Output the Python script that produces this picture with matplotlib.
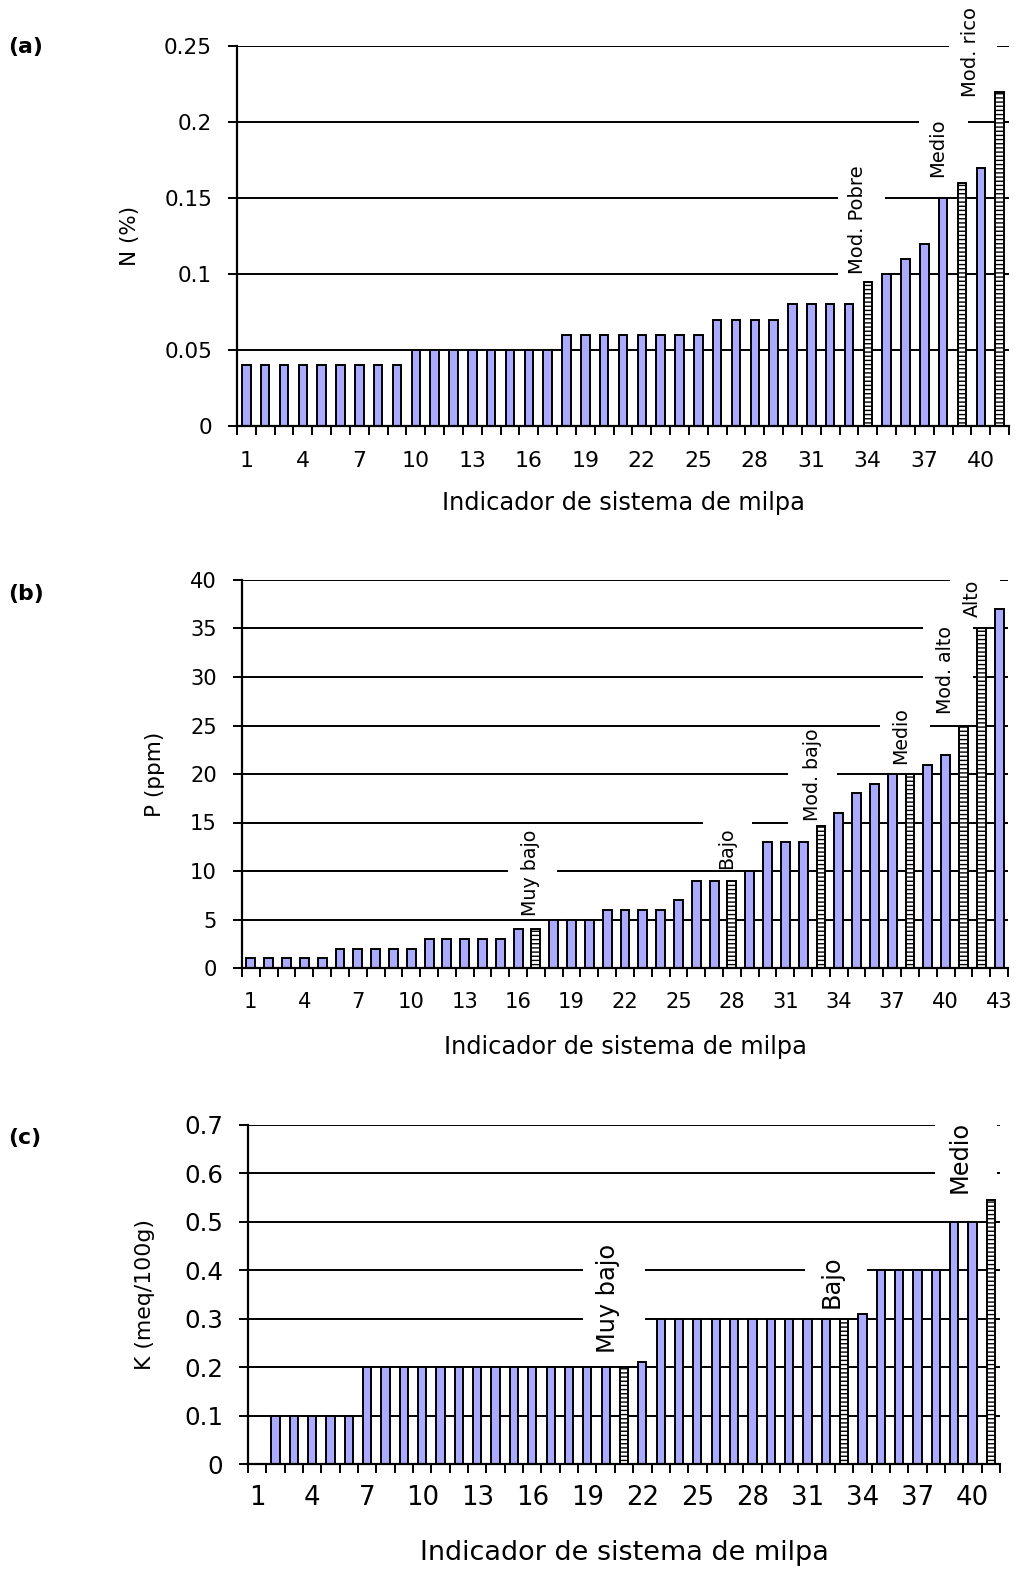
"""Soil nutrient levels (N, P, K) per milpa system, three stacked bar panels."""
import matplotlib

matplotlib.use("Agg")
import matplotlib.pyplot as plt
import numpy as np
from matplotlib.patches import Rectangle

# ---- data ------------------------------------------------------------------
N_VALUES = [0.04] * 9 + [0.05] * 8 + [0.06] * 8 + [0.07] * 4 + [0.08] * 4 + [
    0.095, 0.10, 0.11, 0.12, 0.15, 0.16, 0.17, 0.22]
N_HATCHED = [34, 39, 41]
N_YTICKS = [0, 0.05, 0.10, 0.15, 0.20, 0.25]
N_YLABELS = ["0", "0.05", "0.1", "0.15", "0.2", "0.25"]

P_VALUES = [1] * 5 + [2] * 5 + [3] * 5 + [4] * 2 + [5] * 3 + [6] * 4 + [7] + [9] * 3 + [
    10, 13, 13, 13, 14.6, 16, 18, 19, 20, 20, 20.9, 22, 25, 35, 37]
P_HATCHED = [17, 28, 33, 38, 41, 42]
P_YTICKS = [0, 5, 10, 15, 20, 25, 30, 35, 40]
P_YLABELS = ["0", "5", "10", "15", "20", "25", "30", "35", "40"]

K_VALUES = [0] + [0.1] * 5 + [0.2] * 14 + [0.2, 0.21] + [0.3] * 10 + [
    0.3, 0.31, 0.4, 0.4, 0.4, 0.4, 0.5, 0.5, 0.545]
K_HATCHED = [21, 33, 41]
K_YTICKS = [0, 0.1, 0.2, 0.3, 0.4, 0.5, 0.6, 0.7]
K_YLABELS = ["0", "0.1", "0.2", "0.3", "0.4", "0.5", "0.6", "0.7"]

XLABEL = "Indicador de sistema de milpa"

BLUE = "#aaaaff"
W, H = 1016, 1570


def pt(px):
    """pixel size -> points at dpi 100"""
    return px * 0.72


def axes_rect(left, right, bottom, top):
    return [left / W, 1 - bottom / H, (right - left) / W, (bottom - top) / H]


def draw_panel(rect, values, hatched, yticks, ylabels, ylabel, letter, letter_y,
               boxes, bar_width, fs_ytick, fs_xtick, fs_ylabel, fs_xlabel, fs_note,
               ylabel_x, xlabel_y, xpad):
    ax = fig.add_axes(rect)
    n = len(values)
    x = np.arange(1, n + 1)
    colors = ["white" if k in hatched else BLUE for k in x]
    hatches = ["----" if k in hatched else "" for k in x]
    bars = ax.bar(x, values, width=bar_width, color=colors, edgecolor="black",
                  linewidth=1.4, zorder=2)
    for bar, h in zip(bars, hatches):
        bar.set_hatch(h)

    ax.set_xlim(0.5, n + 0.5)
    ax.set_ylim(yticks[0], yticks[-1])
    ax.set_yticks(yticks, ylabels)
    ax.set_xticks(np.arange(1, n + 1, 3), [str(k) for k in range(1, n + 1, 3)])
    ax.set_xticks(np.arange(0.5, n + 1), minor=True)
    ax.tick_params(axis="x", which="major", length=0, labelsize=pt(fs_xtick), pad=xpad)
    ax.tick_params(axis="x", which="minor", length=6.5, width=1.4, direction="out")
    ax.tick_params(axis="y", length=6.5, width=1.4, direction="out",
                   labelsize=pt(fs_ytick), pad=11.5)

    ax.set_axisbelow(True)
    ax.yaxis.grid(True, color="black", linewidth=1.4)
    for side in ("top", "right"):
        ax.spines[side].set_visible(False)
    for side in ("left", "bottom"):
        ax.spines[side].set_linewidth(1.6)

    # white boxes behind the class names break the grid lines
    for x0, x1, y0, y1, text, tx, ty in boxes:
        ax.add_patch(Rectangle((x0, y0), x1 - x0, y1 - y0, facecolor="white",
                               edgecolor="none", zorder=1.5, clip_on=False))
        ax.text(tx, ty, text, rotation=90, ha="center", va="center",
                fontsize=pt(fs_note), zorder=4)

    ax.set_ylabel(ylabel, fontsize=pt(fs_ylabel), va="center")
    ax.yaxis.set_label_coords(ylabel_x, 0.5)
    ax.set_xlabel(XLABEL, fontsize=pt(fs_xlabel), va="center")
    ax.xaxis.set_label_coords(0.5, xlabel_y)
    fig.text(8 / W, 1 - letter_y / H, letter, fontsize=pt(22), fontweight="bold",
             ha="left", va="center")
    return ax


fig = plt.figure(figsize=(W / 100, H / 100), dpi=100)

draw_panel(
    axes_rect(237, 1009, 426, 46), N_VALUES, N_HATCHED, N_YTICKS, N_YLABELS,
    "N (%)", "(a)", 47,
    [(32.4, 34.9, 0.09, 0.18, "Mod. Pobre", 33.43, 0.136),
     (36.7, 39.3, 0.16, 0.21, "Medio", 37.73, 0.183),
     (38.3, 40.85, 0.215, 0.28, "Mod. rico", 39.43, 0.246)],
    0.45, 21.5, 22, 21.5, 24, 19.5, -0.1386, -0.2026, 18,
)

draw_panel(
    axes_rect(242, 1008, 968, 580), P_VALUES, P_HATCHED, P_YTICKS, P_YLABELS,
    "P (ppm)", "(b)", 594,
    [(15.45, 18.2, 5.2, 14.4, "Muy bajo", 16.67, 9.85),
     (26.4, 29.15, 10.2, 15.6, "Bajo", 27.73, 12.4),
     (31.15, 33.9, 14.8, 24.7, "Mod. bajo", 32.5, 19.9),
     (36.3, 39.1, 20.5, 27.5, "Medio", 37.5, 24.0),
     (38.75, 41.55, 25.5, 36.5, "Mod. alto", 39.97, 30.7),
     (40.25, 43.05, 35.3, 41.0, "Alto", 41.5, 38.1)],
    0.5, 21, 21, 21.5, 24, 19, -0.1136, -0.2036, 17.5,
)

draw_panel(
    axes_rect(248, 1000, 1464, 1125), K_VALUES, K_HATCHED, K_YTICKS, K_YLABELS,
    "K (meq/100g)", "(c)", 1138,
    [(18.77, 22.15, 0.215, 0.46, "Muy bajo", 20.13, 0.342),
     (30.87, 34.25, 0.33, 0.47, "Bajo", 32.34, 0.376),
     (37.96, 41.34, 0.55, 0.72, "Medio", 39.32, 0.634)],
    0.45, 24.5, 26, 22, 27, 24, -0.137, -0.2625, 15,
)

fig.savefig("out.png", dpi=100)
